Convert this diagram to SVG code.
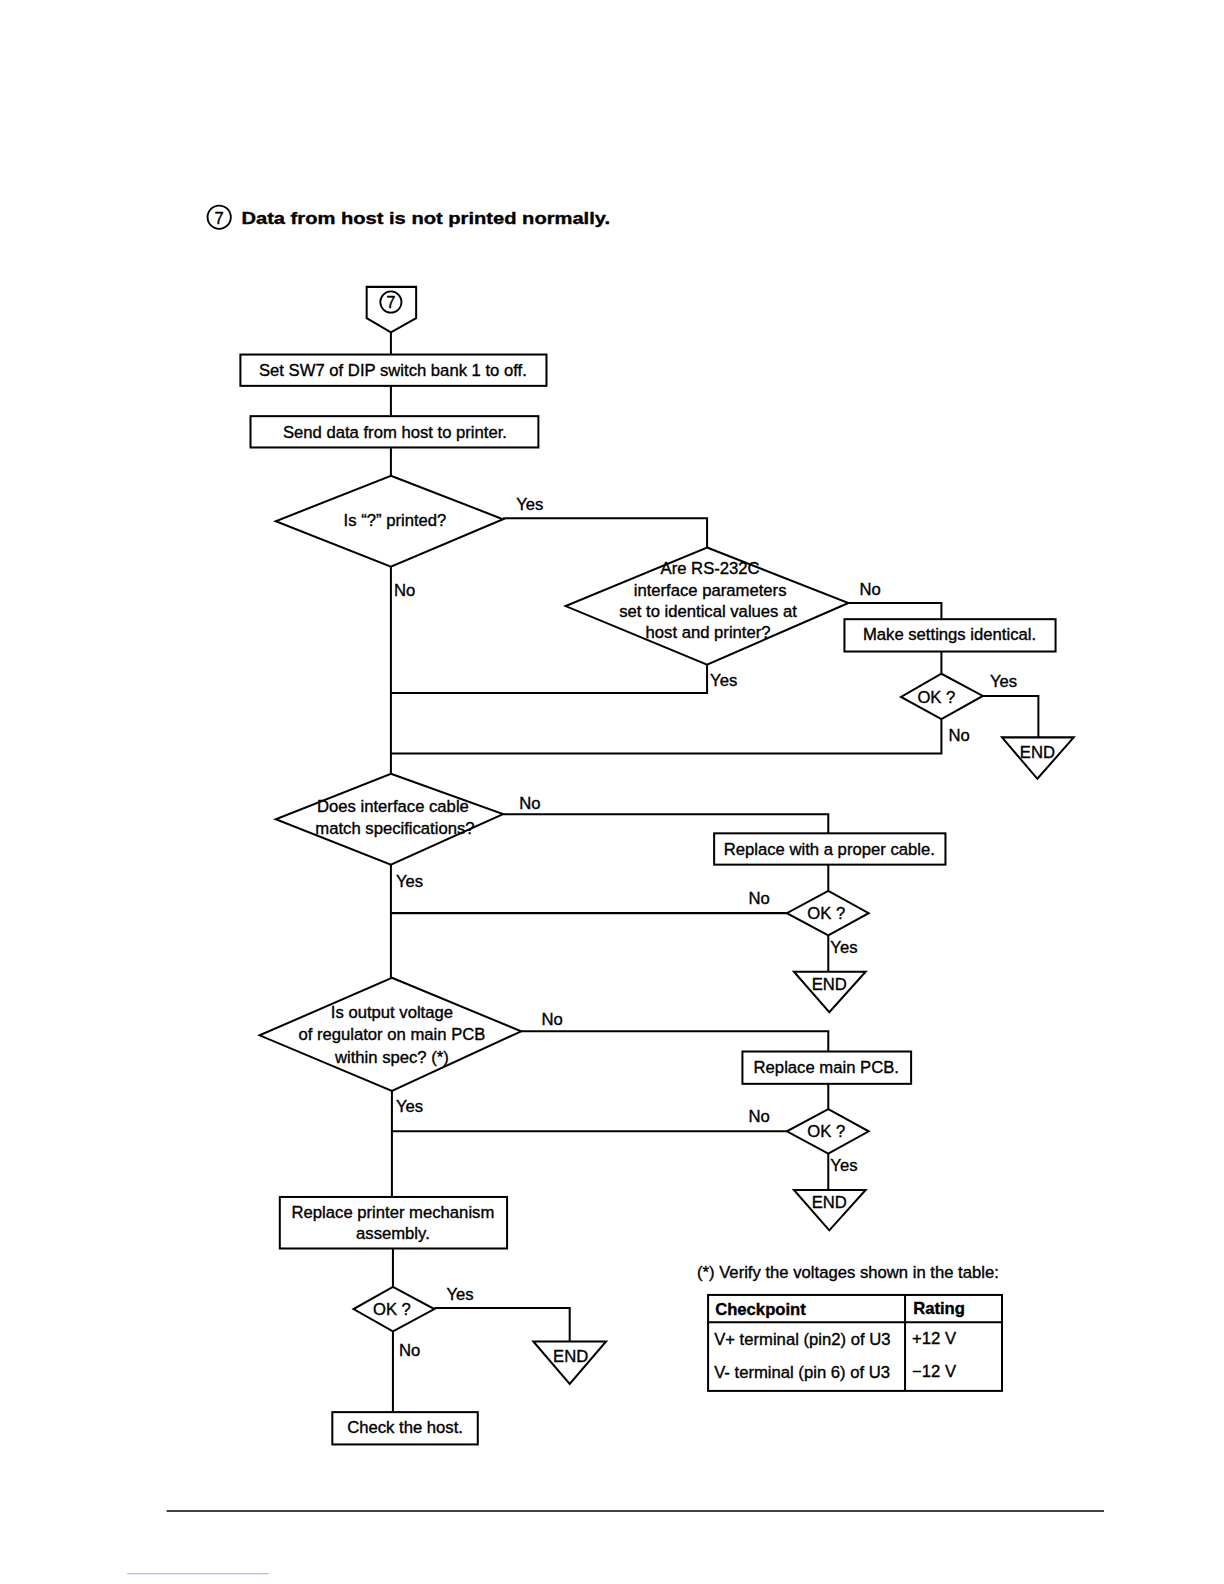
<svg xmlns="http://www.w3.org/2000/svg" width="1224" height="1584" viewBox="0 0 1224 1584">
<style>
  .s { fill: #fff; stroke: #000; stroke-width: 2; }
  .c { fill: none; stroke: #000; stroke-width: 2; }
  text { font-family: "Liberation Sans", Arial, sans-serif; font-size: 16.5px; fill: #000; stroke: #000; stroke-width: 0.35; }
  .m { text-anchor: middle; }
  .b { font-weight: bold; }
</style>
<rect width="1224" height="1584" fill="#fff"/>
<g transform="scale(1.0101)">
<g id="title">
  <circle cx="217" cy="215" r="11.5" fill="none" stroke="#000" stroke-width="1.8"/>
  <text x="217" y="221.5" class="m" font-size="17">7</text>
  <text x="239" y="222" class="b" font-size="20.5" stroke-width="0.6" textLength="365" lengthAdjust="spacingAndGlyphs">Data from host is not printed normally.</text>
</g>

<g id="connectors">
  <polyline class="c" points="387,329 387,351"/>
  <polyline class="c" points="387,382 387,412"/>
  <polyline class="c" points="387,443 387,471"/>
  <polyline class="c" points="498,513 700,513 700,542"/>
  <polyline class="c" points="840,597 932,597 932,613"/>
  <polyline class="c" points="932,645 932,667"/>
  <polyline class="c" points="973,689 1028,689 1028,730"/>
  <polyline class="c" points="932,712 932,746 387,746"/>
  <polyline class="c" points="700,658 700,686 387,686"/>
  <polyline class="c" points="387,561 387,766"/>
  <polyline class="c" points="498,806 820,806 820,825"/>
  <polyline class="c" points="820,856 820,882"/>
  <polyline class="c" points="779,904 387,904"/>
  <polyline class="c" points="820,926 820,962"/>
  <polyline class="c" points="387,856 387,968"/>
  <polyline class="c" points="516,1021 820,1021 820,1041"/>
  <polyline class="c" points="820,1073 820,1098"/>
  <polyline class="c" points="779,1120 388,1120"/>
  <polyline class="c" points="820,1142 820,1178"/>
  <polyline class="c" points="388,1080 388,1185"/>
  <polyline class="c" points="389,1236 389,1274"/>
  <polyline class="c" points="430,1295 564,1295 564,1328"/>
  <polyline class="c" points="389,1318 389,1398"/>
  <text x="511" y="505">Yes</text>
  <text x="390" y="590">No</text>
  <text x="851" y="589">No</text>
  <text x="703" y="679">Yes</text>
  <text x="980" y="680">Yes</text>
  <text x="939" y="734">No</text>
  <text x="514" y="801">No</text>
  <text x="392" y="878">Yes</text>
  <text x="741" y="895">No</text>
  <text x="822" y="943">Yes</text>
  <text x="536" y="1015">No</text>
  <text x="392" y="1101">Yes</text>
  <text x="741" y="1111">No</text>
  <text x="822" y="1159">Yes</text>
  <text x="442" y="1287">Yes</text>
  <text x="395" y="1342">No</text>
</g>

<g id="start">
  <polygon class="s" points="363,284 412,284 412,315 387,329 363,315"/>
  <circle cx="387" cy="299" r="10.5" fill="none" stroke="#000" stroke-width="1.8"/>
  <text x="387" y="305" class="m">7</text>
</g>

<g id="box-sw7">
  <rect class="s" x="238" y="351" width="303" height="31"/>
  <text x="389" y="372" class="m">Set SW7 of DIP switch bank 1 to off.</text>
</g>

<g id="box-send">
  <rect class="s" x="248" y="412" width="285" height="31"/>
  <text x="391" y="434" class="m">Send data from host to printer.</text>
</g>

<g id="dec-printed">
  <polygon class="s" points="387,471 498,514 387,561 273,516"/>
  <text x="391" y="521" class="m">Is “?” printed?</text>
</g>

<g id="dec-rs232c">
  <polygon class="s" points="700,542 840,597 700,658 560,600"/>
  <text x="703" y="568" class="m">Are RS-232C</text>
  <text x="703" y="590" class="m">interface parameters</text>
  <text x="701" y="611" class="m">set to identical values at</text>
  <text x="701" y="632" class="m">host and printer?</text>
</g>

<g id="box-identical">
  <rect class="s" x="836" y="613" width="209" height="32"/>
  <text x="940" y="634" class="m">Make settings identical.</text>
</g>

<g id="ok1">
  <polygon class="s" points="932,667 973,689 932,712 892,690"/>
  <text x="927" y="696" class="m">OK ?</text>
</g>

<g id="end1">
  <polygon class="s" points="992,730 1063,730 1027,771"/>
  <text x="1027" y="750" class="m">END</text>
</g>

<g id="dec-cable">
  <polygon class="s" points="387,766 498,806 387,856 273,811"/>
  <text x="389" y="804" class="m">Does interface cable</text>
  <text x="391" y="826" class="m">match specifications?</text>
</g>

<g id="box-cable">
  <rect class="s" x="707" y="825" width="229" height="31"/>
  <text x="821" y="846" class="m">Replace with a proper cable.</text>
</g>

<g id="ok2">
  <polygon class="s" points="820,882 860,904 820,926 779,904"/>
  <text x="818" y="910" class="m">OK ?</text>
</g>

<g id="end2">
  <polygon class="s" points="786,962 857,962 821,1002"/>
  <text x="821" y="980" class="m">END</text>
</g>

<g id="dec-voltage">
  <polygon class="s" points="388,968 516,1021 388,1080 257,1025"/>
  <text x="388" y="1008" class="m">Is output voltage</text>
  <text x="388" y="1030" class="m">of regulator on main PCB</text>
  <text x="388" y="1052" class="m">within spec? (*)</text>
</g>

<g id="box-pcb">
  <rect class="s" x="735" y="1041" width="167" height="32"/>
  <text x="818" y="1062" class="m">Replace main PCB.</text>
</g>

<g id="ok3">
  <polygon class="s" points="820,1098 860,1120 820,1142 779,1120"/>
  <text x="818" y="1126" class="m">OK ?</text>
</g>

<g id="end3">
  <polygon class="s" points="786,1178 857,1178 821,1218"/>
  <text x="821" y="1196" class="m">END</text>
</g>

<g id="box-mechanism">
  <rect class="s" x="277" y="1185" width="225" height="51"/>
  <text x="389" y="1206" class="m">Replace printer mechanism</text>
  <text x="389" y="1227" class="m">assembly.</text>
</g>

<g id="ok4">
  <polygon class="s" points="389,1274 430,1296 389,1318 350,1296"/>
  <text x="388" y="1302" class="m">OK ?</text>
</g>

<g id="end4">
  <polygon class="s" points="528,1328 600,1328 564,1370"/>
  <text x="565" y="1348" class="m">END</text>
</g>

<g id="box-host">
  <rect class="s" x="329" y="1398" width="144" height="32"/>
  <text x="401" y="1419" class="m">Check the host.</text>
</g>

<g id="note">
  <text x="690" y="1265">(*) Verify the voltages shown in the table:</text>
  <rect class="s" x="701" y="1282" width="291" height="95"/>
  <line class="c" x1="701" y1="1309" x2="992" y2="1309"/>
  <line class="c" x1="896" y1="1282" x2="896" y2="1377"/>
  <text x="708" y="1302" class="b">Checkpoint</text>
  <text x="904" y="1301" class="b">Rating</text>
  <text x="707" y="1332">V+ terminal (pin2) of U3</text>
  <text x="903" y="1331">+12 V</text>
  <text x="707" y="1364">V- terminal (pin 6) of U3</text>
  <text x="903" y="1363">−12 V</text>
</g>

<line x1="165" y1="1496" x2="1093" y2="1496" stroke="#000" stroke-width="1.5"/>
<line x1="126" y1="1558" x2="266" y2="1558" stroke="#9aa8e8" stroke-width="1"/>
</g>
</svg>
